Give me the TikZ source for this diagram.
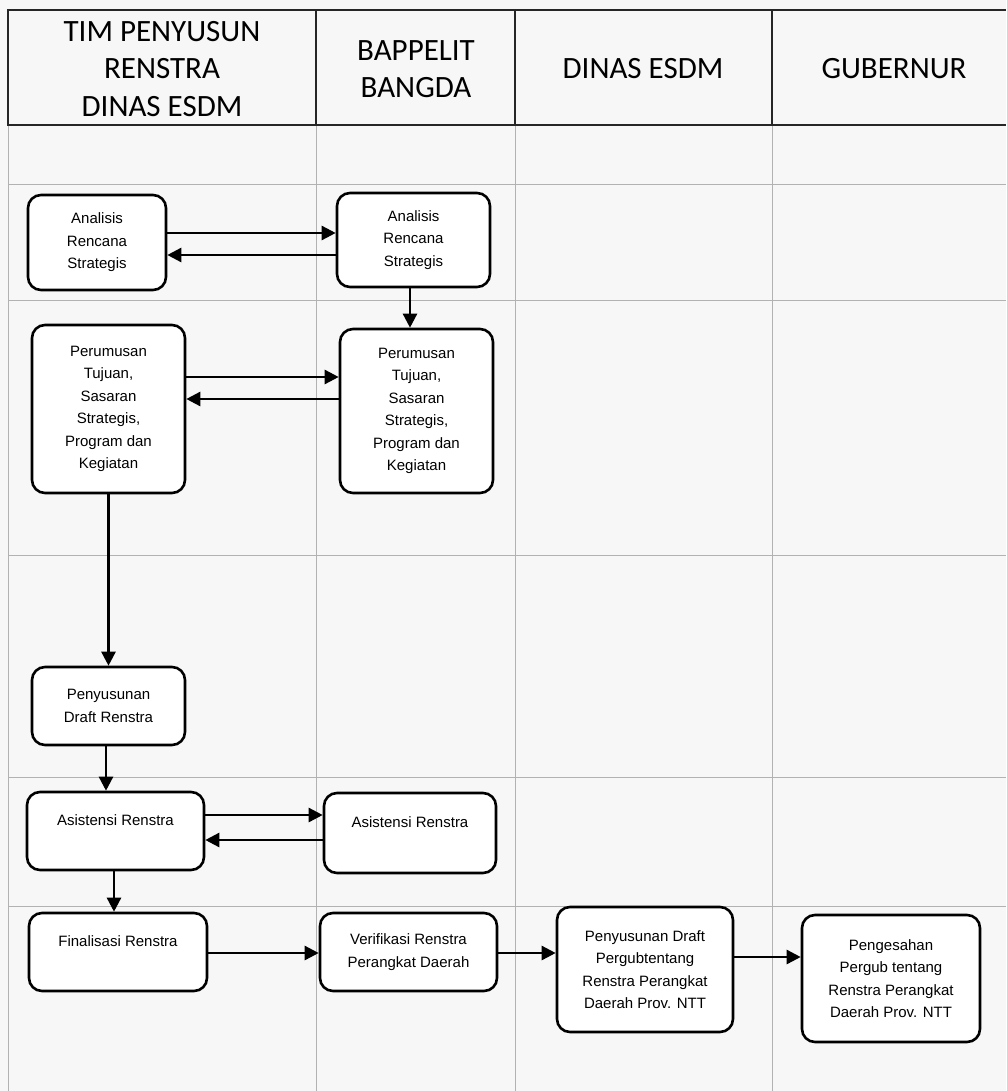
\documentclass[tikz,border=0pt]{standalone}
\usepackage{fontspec}
\setmainfont{Liberation Sans}
\newfontfamily\headfont{Carlito}
\usetikzlibrary{arrows.meta}
\tikzset{
  procbox/.style={draw=black, line width=2.6pt, rounded corners=13pt, fill=white,
    align=center, inner sep=2pt, font=\fontsize{15}{22.5}\selectfont},
  arr/.style={line width=2.5pt, -{Triangle[length=14pt,width=14pt]}},
  gridline/.style={draw=black!30, line width=1pt},
  headline/.style={draw=black!85, line width=2pt},
  headtext/.style={align=center, font=\headfont\fontsize{31}{37.5}\selectfont, inner sep=0pt}
}
\begin{document}
\begin{tikzpicture}[x=1pt,y=-1pt]
\useasboundingbox (0,0) rectangle (1006,1091);
\fill[black!3] (0,0) rectangle (1006,1091);
% body grid
\foreach \yy in {185,300,555,777,906} \draw[gridline] (8,\yy) -- (1006,\yy);
\foreach \xx in {8,316,515,772} \draw[gridline] (\xx,125) -- (\xx,1091);
% header
\draw[headline] (1006,10) -- (8,10) -- (8,125) -- (1006,125);
\foreach \xx in {316,515,772} \draw[headline] (\xx,10) -- (\xx,125);
\node[headtext] (h1) at (162,69) {TIM PENYUSUN\\RENSTRA\\DINAS ESDM};
\node[headtext] (h2) at (416,69) {BAPPELIT\\BANGDA};
\node[headtext] (h3) at (643,69) {DINAS ESDM};
\node[headtext] (h4) at (894,69) {GUBERNUR};
% boxes
\node[procbox, minimum width=138pt, minimum height=95pt] (A1) at (97,242.5) {Analisis\\Rencana\\Strategis};
\node[procbox, minimum width=153pt, minimum height=94pt] (B1) at (413.5,240) {Analisis\\Rencana\\Strategis};
\node[procbox, minimum width=153pt, minimum height=168pt] (A2) at (108.5,409) {Perumusan\\Tujuan,\\Sasaran\\Strategis,\\Program dan\\Kegiatan};
\node[procbox, minimum width=153pt, minimum height=164pt] (B2) at (416.5,411) {Perumusan\\Tujuan,\\Sasaran\\Strategis,\\Program dan\\Kegiatan};
\node[procbox, minimum width=153pt, minimum height=78pt] (A3) at (108.5,706) {Penyusunan\\Draft Renstra};
\node[procbox, minimum width=177pt, minimum height=78pt] (A4) at (115.5,831) {Asistensi Renstra\\\phantom{A}};
\node[procbox, minimum width=172pt, minimum height=80pt] (B4) at (410,833) {Asistensi Renstra\\\phantom{A}};
\node[procbox, minimum width=178pt, minimum height=78pt] (A5) at (118,952) {Finalisasi Renstra\\\phantom{A}};
\node[procbox, minimum width=177pt, minimum height=78pt] (B5) at (408.5,952) {Verifikasi Renstra\\Perangkat Daerah};
\node[procbox, minimum width=176pt, minimum height=125pt] (C5) at (645,969.5) {Penyusunan Draft\\Pergubtentang\\Renstra Perangkat\\Daerah Prov. NTT};
\node[procbox, minimum width=178pt, minimum height=127pt] (D5) at (891,978.5) {Pengesahan\\Pergub tentang\\Renstra Perangkat\\Daerah Prov. NTT};
% connectors
\draw[arr] (A1.east |- 0,233) -- (B1.west |- 0,233);
\draw[arr] (B1.west |- 0,255) -- (A1.east |- 0,255);
\draw[arr] (B1.south -| 410,0) -- (B2.north -| 410,0);
\draw[arr] (A2.east |- 0,377) -- (B2.west |- 0,377);
\draw[arr] (B2.west |- 0,399) -- (A2.east |- 0,399);
\draw[arr] (A2.south) -- (A3.north);
\draw[arr] (A3.south -| 106,0) -- (A4.north -| 106,0);
\draw[arr] (A4.east |- 0,815) -- (B4.west |- 0,815);
\draw[arr] (B4.west |- 0,840) -- (A4.east |- 0,840);
\draw[arr] (A4.south -| 114,0) -- (A5.north -| 114,0);
\draw[arr] (A5.east |- 0,953) -- (B5.west |- 0,953);
\draw[arr] (B5.east |- 0,953) -- (C5.west |- 0,953);
\draw[arr] (C5.east |- 0,957) -- (D5.west |- 0,957);
\end{tikzpicture}
\end{document}
